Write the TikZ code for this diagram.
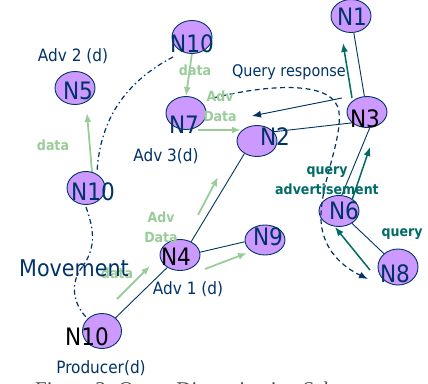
\documentclass[tikz,border=0pt]{standalone}
\usepackage{fontspec}
\setmainfont{DejaVu Sans Condensed}
\newfontfamily\capfont{Liberation Serif}
\usepackage{tikz}
\usetikzlibrary{shapes.geometric,arrows.meta,calc,positioning}
\definecolor{navy}{HTML}{003366}
\definecolor{lilac}{HTML}{CC99FF}
\definecolor{leaf}{HTML}{99CC99}
\definecolor{qteal}{HTML}{006B66}
\begin{document}
\begin{tikzpicture}[x=1pt,y=-1pt,
    peer/.style={ellipse,draw=navy,fill=lilac,line width=0.9pt,minimum width=40pt,minimum height=33pt,inner sep=0pt},
    nlbl/.style={text=navy,font=\fontsize{24}{24}\selectfont,inner sep=0pt},
    txt/.style={text=navy,font=\fontsize{17}{17}\selectfont,inner sep=0pt,anchor=base},
    tag/.style={text=leaf,font=\bfseries\fontsize{14}{20}\selectfont,inner sep=0pt,align=center},
    qtag/.style={text=qteal,font=\bfseries\fontsize{14}{20}\selectfont,inner sep=0pt,align=center},
    link/.style={draw=navy,line width=0.9pt},
    gflow/.style={draw=leaf,line width=1.8pt,-{Latex[length=9pt,width=7pt]}},
    qflow/.style={draw=qteal,line width=1.5pt,-{Latex[length=9pt,width=7pt]}}]
      \useasboundingbox (0,0) rectangle (428,383);
      % Free ends of the flows
      \coordinate (qrs) at (342,98);
      \coordinate (qre) at (252,116);
      \coordinate (dqs) at (213,98);
      \coordinate (dqe) at (368,279);
      \coordinate (mva) at (173,57);
      \coordinate (mvb) at (97,172);
      \coordinate (mvc) at (86,207);
      \coordinate (mvd) at (87,318);
      % Green data flows
      \draw[gflow] (192,53) -- (186,96);
      \draw[gflow] (198,130) -- (241,130);
      \draw[gflow] (92,172) -- (87,113);
      \draw[gflow] (198,215) -- (218,177);
      \draw[gflow] (205,269) -- (247,253);
      \draw[gflow] (117,299) -- (150,266);
      % Movement of the producer
      \draw[navy,line width=1.2pt,dash pattern=on 5pt off 3pt on 1.5pt off 3pt]
        (mva) .. controls (125,82) and (100,120) .. (mvb);
      \draw[navy,line width=1.2pt,dash pattern=on 5pt off 3pt on 1.5pt off 3pt]
        (mvc) .. controls (95,232) and (96,250) .. (80,270) .. controls (70,286) and (74,305) .. (mvd);
      % Peers
      \node[peer] (n1) at (351,16) {};
      \node[peer] (n10a) at (192,37) {};
      \node[peer] (n5) at (75,88) {};
      \node[peer] (n7) at (186,113) {};
      \node[peer,minimum height=31pt] (n2) at (257,141) {};
      \node[peer,minimum height=31pt] (n3) at (367,112) {};
      \node[peer,minimum width=38pt] (n10b) at (86,188) {};
      \node[peer,minimum height=31pt] (n4) at (180,255) {};
      \node[peer,minimum height=30pt] (n9) at (265,240) {};
      \node[peer,minimum height=31pt] (n6) at (339,211) {};
      \node[peer,minimum height=36pt] (n8) at (398,267) {};
      \node[peer,minimum width=39pt,minimum height=35pt] (n10c) at (102,331) {};
      % Links
      \draw[link] (n1) -- (n3);
      \draw[link] (n2.29) -- (n3.216);
      \draw[link] (n3.280) -- (n6.80);
      \draw[link] (n2.225) -- (n4.50);
      \draw[link] (n4.8) -- (n9.185);
      \draw[link] (n4) -- (n10c);
      \draw[link] (n6) -- (n8);
      % Query response and its path
      \draw[link,-{Latex[length=9pt,width=7pt]}] (qrs) -- (qre);
      \draw[navy,line width=1.2pt,dash pattern=on 5pt off 3.5pt,-{Latex[length=9pt,width=7pt]}]
        (dqs) .. controls (270,84) and (335,80) .. (339,112)
        .. controls (342,140) and (322,180) .. (321,215)
        .. controls (320,250) and (345,268) .. (dqe);
      % Query advertisement flows
      \draw[qflow] (352,98) -- (343,43);
      \draw[qflow] (352,200) -- (370,147);
      \draw[qflow] (370,270) -- (335,227);
      % Peer names
      \node[nlbl] (t1) at (352,17) {N1};
      \node[nlbl] (t10a) at (192,44) {N10};
      \node[nlbl] (t5) at (78,91) {N5};
      \node[nlbl] (t7) at (184,125) {N7};
      \node[nlbl] (t2) at (275,137) {N2};
      \node[nlbl,text=black] (t3) at (365,119) {N3};
      \node[nlbl] (t10b) at (93,192) {N10};
      \node[nlbl,text=black] (t4) at (176,257) {N4};
      \node[nlbl] (t9) at (268,237) {N9};
      \node[nlbl] (t6) at (344,211) {N6};
      \node[nlbl] (t8) at (395,274) {N8};
      \node[nlbl,text=black] (t10c) at (87,337) {N10};
      % Texts
      \node[tag,anchor=base] (d1) at (195,75) {data};
      \node[tag,anchor=base] (d2) at (53,150) {data};
      \node[tag,anchor=base] (d3) at (117,278) {data};
      \node[tag] (ad1) at (220,106) {Adv\\Data};
      \node[tag] (ad2) at (161,227) {Adv\\Data};
      \node[qtag] (qa) at (327,181) {query\\advertisement};
      \node[qtag,anchor=base] (qq) at (402,236) {query};
      \node[txt] (a2) at (73,61) {Adv 2 (d)};
      \node[txt,font=\fontsize{16}{16}\selectfont] (qr) at (289,76) {Query response};
      \node[txt] (a3) at (166,161) {Adv 3(d)};
      \node[txt,font=\fontsize{23}{23}\selectfont] (mv) at (74,276) {Movement};
      \node[txt] (a1) at (188,294) {Adv 1 (d)};
      \node[txt] (pr) at (101,373) {Producer(d)};
      % Caption, cut by the border
      \node[text=black!70,font=\capfont\fontsize{21}{21}\selectfont,inner sep=0pt,anchor=base west] (fig) at (35,396) {Figure 3: Query Dissemination Scheme};
    \end{tikzpicture}
\end{document}
